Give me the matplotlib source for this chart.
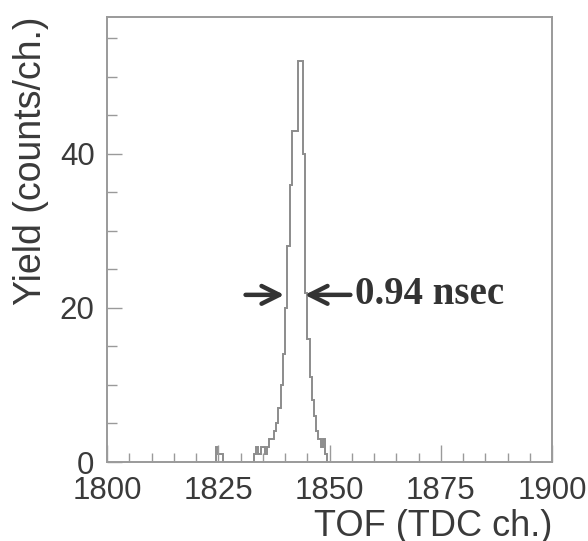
import matplotlib.pyplot as plt
import numpy as np
from matplotlib.ticker import MultipleLocator

# TOF spectrum, 0.5 TDC-channel bins
bin_lo = 1820.0
bin_width = 0.5
counts = [0, 0, 0, 0, 0, 0, 0, 0, 0, 2, 1, 1,   # 1820.0 - 1825.5
          0, 0, 0, 0, 0, 0, 0, 0, 0, 0, 0, 0,   # 1826.0 - 1831.5
          0, 0, 1, 2, 1, 2, 2, 1, 2, 3, 3, 4,   # 1832.0 - 1837.5
          5, 7, 10, 14, 20, 28, 36, 43, 43, 43, 52, 52,  # 1838.0 - 1843.5
          40, 22, 16, 11, 8, 6, 4, 3, 2, 3, 1, 0]  # 1844.0 - 1849.5

fwhm_label = '0.94 nsec'
fwhm_left, fwhm_right, fwhm_level = 1840.45, 1843.8, 21.7

x_ticks = [1800, 1825, 1850, 1875, 1900]
y_ticks = [0, 20, 40]

edges = bin_lo + bin_width * np.arange(len(counts) + 1)

plt.rcParams['font.family'] = ['Liberation Sans', 'DejaVu Sans']

fig = plt.figure(figsize=(5.88, 5.41), dpi=100)
ax = fig.add_axes([0.182, 0.146, 0.757, 0.823])

ax.stairs(counts, edges, color='#8c8c8c', linewidth=1.4)

ax.set_xlim(1800, 1900)
ax.set_ylim(0, 57.8)
ax.set_xticks(x_ticks)
ax.set_yticks(y_ticks)
ax.xaxis.set_minor_locator(MultipleLocator(5))
ax.yaxis.set_minor_locator(MultipleLocator(5))

for side in ['left', 'right', 'top', 'bottom']:
    ax.spines[side].set_color('#9a9a9a')
    ax.spines[side].set_linewidth(1.4)

ax.tick_params(axis='both', which='both', direction='in', color='#9a9a9a',
               labelcolor='#3a3a3a', labelsize=22.5)
ax.tick_params(axis='x', which='major', length=12, width=1.0, pad=10)
ax.tick_params(axis='x', which='minor', length=6.5, width=1.0)
ax.tick_params(axis='y', which='major', length=11, width=1.0, pad=9)
ax.tick_params(axis='y', which='minor', length=7, width=1.0)

ax.set_xlabel('TOF (TDC ch.)', fontsize=26, color='#3a3a3a', loc='right', labelpad=2)
ax.set_ylabel('Yield (counts/ch.)', fontsize=27, color='#3a3a3a', loc='top', labelpad=8)

# FWHM arrows
arrow_style = dict(arrowstyle='->', color='#333333', lw=3.2, mutation_scale=32)
ax.annotate('', xy=(fwhm_left, fwhm_level), xytext=(1830.5, fwhm_level),
            arrowprops=arrow_style)
ax.annotate('', xy=(fwhm_right, fwhm_level), xytext=(1855.3, fwhm_level),
            arrowprops=arrow_style)
ax.text(1855.6, fwhm_level, fwhm_label, family=['Liberation Serif', 'DejaVu Serif'],
        fontweight='bold', fontsize=28, color='#333333', ha='left', va='center')

fig.savefig('out.png', dpi=100, facecolor='white')
